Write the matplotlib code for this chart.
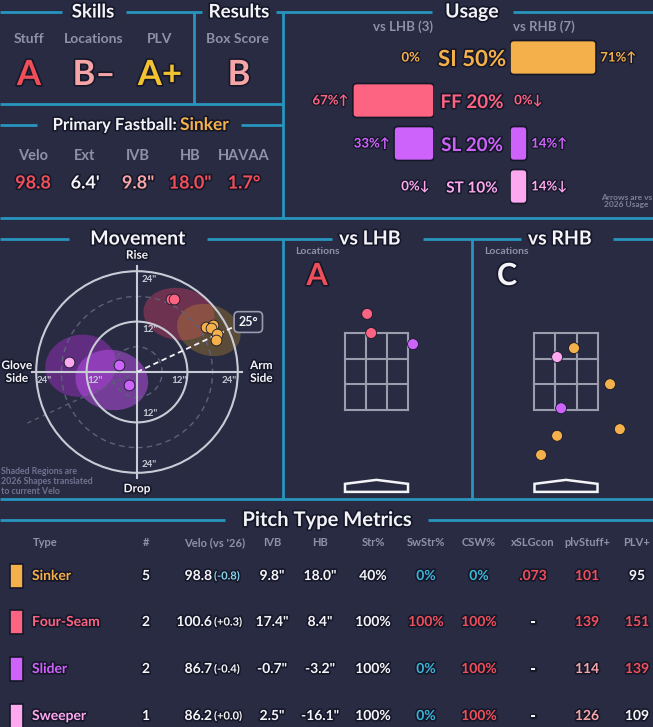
import numpy as np
import matplotlib
matplotlib.use("Agg")
import matplotlib.pyplot as plt
import matplotlib.patheffects as pe
from matplotlib.patches import Ellipse, Circle, Polygon, Rectangle, FancyBboxPatch

plt.rcParams['font.family'] = ['Lato', 'DejaVu Sans']

# ---------------- data ----------------
skill_names = ['Stuff', 'Locations', 'PLV']
skill_grades = ['A', 'B–', 'A+']
result_name = 'Box Score'
result_grade = 'B'

fb_name = 'Sinker'
fb_labels = ['Velo', 'Ext', 'IVB', 'HB', 'HAVAA']
fb_values = ['98.8', "6.4'", '9.8"', '18.0"', '1.7°']

pitch_codes = ['SI', 'FF', 'SL', 'ST']
pitch_names = ['Sinker', 'Four-Seam', 'Slider', 'Sweeper']
usage_all = [50, 20, 20, 10]
usage_lhb = [0, 67, 33, 0]
usage_rhb = [71, 0, 14, 14]
arrow_lhb = ['', '↑', '↑', '↓']
arrow_rhb = ['↑', '↓', '↑', '↓']
n_lhb = 3
n_rhb = 7

# movement (inches): individual pitches
si_hb = [16.5, 18.2, 17.5, 19.0, 18.8]
si_ivb = [10.8, 11.2, 10.4, 9.0, 7.6]
ff_hb = [8.0, 8.8]
ff_ivb = [17.3, 17.5]
sl_hb = [-4.4, -2.0]
sl_ivb = [1.6, -3.0]
st_hb = [-16.1]
st_ivb = [2.5]
arm_angle = 25

# 2026 shapes (ellipses) per pitch, order SI, FF, SL, ST
shape_hb = [17.1, 10.0, -6.0, -13.4]
shape_ivb = [10.0, 13.8, -1.9, 1.5]
shape_w = [15.5, 17.0, 17.4, 17.0]
shape_h = [12.0, 12.4, 14.3, 14.7]
shape_ang = [-20, -8, -10, 12]

# locations (feet)
loc_grade_lhb = 'A'
loc_grade_rhb = 'C'
lhb_x = [-0.21, -0.12, 0.82]
lhb_z = [3.71, 3.28, 3.03]
lhb_type = ['FF', 'FF', 'SL']
rhb_x = [0.18, -0.20, 0.99, -0.11, 1.21, -0.20, -0.56]
rhb_z = [2.94, 2.74, 2.13, 1.59, 1.12, 0.97, 0.54]
rhb_type = ['SI', 'ST', 'SI', 'SL', 'SI', 'SI', 'SI']

# pitch type metrics table
tbl_cols = ['Type', '#', "Velo (vs '26)", 'IVB', 'HB', 'Str%', 'SwStr%', 'CSW%',
            'xSLGcon', 'plvStuff+', 'PLV+']
tbl_count = ['5', '2', '2', '1']
tbl_velo = ['98.8', '100.6', '86.7', '86.2']
tbl_velo_diff = ['(-0.8)', '(+0.3)', '(-0.4)', '(+0.0)']
tbl_ivb = ['9.8"', '17.4"', '-0.7"', '2.5"']
tbl_hb = ['18.0"', '8.4"', '-3.2"', '-16.1"']
tbl_str = ['40%', '100%', '100%', '100%']
tbl_swstr = ['0%', '100%', '0%', '0%']
tbl_csw = ['0%', '100%', '100%', '100%']
tbl_xslg = ['.073', '-', '-', '-']
tbl_stuff = ['101', '139', '114', '126']
tbl_plv = ['95', '151', '139', '109']

# ---------------- style ----------------
BG = '#282b41'
DARK = '#16182a'
LINE = '#2795bd'
GRAY = '#8d91aa'
WHITE = '#f4f4f8'
RED = '#f04f5a'
PINK = '#f6a5a7'
YEL = '#f3c230'
CYAN = '#3cb4d8'
pcol = {'SI': '#f4b04a', 'FF': '#fd6482', 'SL': '#cd63fa', 'ST': '#fda8ef'}
shape_col = ['#c8902a', '#e0406a', '#c050f0', '#9b30c0']
shape_alpha = [0.32, 0.38, 0.5, 0.5]

W, H = 653, 727
fig = plt.figure(figsize=(W / 100, H / 100), dpi=100, facecolor=BG)
ov = fig.add_axes([0, 0, 1, 1])
ov.set_xlim(0, W)
ov.set_ylim(H, 0)
ov.axis('off')


def px_axes(x0, y0, x1, y1):
    a = fig.add_axes([x0 / W, 1 - y1 / H, (x1 - x0) / W, (y1 - y0) / H])
    a.set_facecolor('none')
    a.axis('off')
    return a


def outline(w=2.4):
    return [pe.withStroke(linewidth=w, foreground=DARK)]


def txt(x, y, s, size, color=WHITE, ha='center', va='center', ax=None, stroke=True, **kw):
    a = ax if ax is not None else ov
    t = a.text(x, y, s, fontsize=size, color=color, ha=ha, va=va,
               fontweight='bold', **kw)
    if stroke:
        t.set_path_effects(outline())
    return t


# ---------------- frame lines ----------------
hlines = [(12, 0, 62), (12, 126, 202), (12, 276, 432), (12, 513, 653),
          (104, 0, 283), (125, 0, 37), (125, 241, 283), (218, 0, 653),
          (239, 0, 69), (239, 207, 332), (239, 423, 521), (239, 613, 653),
          (499, 0, 653), (520, 0, 225), (520, 428, 653)]
vlines = [(194, 12, 104), (283, 12, 218), (283, 239, 499), (472, 239, 499)]
for y, xa, xb in hlines:
    ov.plot([xa, xb], [y, y], color=LINE, lw=2, solid_capstyle='butt')
for x, ya, yb in vlines:
    ov.plot([x, x], [ya, yb], color=LINE, lw=2, solid_capstyle='butt')

# ---------------- skills / results ----------------
txt(93, 12, 'Skills', 13.5)
txt(239, 12, 'Results', 13.5)
skill_x = [29, 94, 160]
skill_col = [RED, PINK, YEL]
for x, n, g, c in zip(skill_x, skill_names, skill_grades, skill_col):
    txt(x, 39, n, 10, GRAY, stroke=False)
    txt(x, 75, g, 25, c)
txt(238, 39, result_name, 10, GRAY, stroke=False)
txt(239, 75, result_grade, 25, PINK)

txt(176, 125, 'Primary Fastball:', 12, ha='right')
txt(180, 125, fb_name, 12.5, pcol['SI'], ha='left')
fb_x = [33, 85, 138, 190, 244]
fb_col = [RED, WHITE, PINK, RED, RED]
for x, l, v, c in zip(fb_x, fb_labels, fb_values, fb_col):
    txt(x, 156, l, 10.5, GRAY, stroke=False)
    txt(x, 183, v, 13, c)

# ---------------- usage ----------------
txt(472, 12, 'Usage', 14)
txt(433, 27, f'vs LHB ({n_lhb})', 9.5, GRAY, ha='right', stroke=False)
txt(513, 27, f'vs RHB ({n_rhb})', 9.5, GRAY, ha='left', stroke=False)

rows = list(range(len(pitch_codes)))
colors = [pcol[p] for p in pitch_codes]


def round_bars(a, bars, px_per_x, px_per_row):
    # swap the plain barh rectangles for rounded ones of the same extent
    for b in bars:
        x, y, w, h = b.get_x(), b.get_y(), b.get_width(), b.get_height()
        fc = b.get_facecolor()
        b.remove()
        if w <= 0:
            continue
        a.add_patch(FancyBboxPatch((x, y), w, h,
                                   boxstyle=f'round,pad=0,rounding_size={4 / px_per_x}',
                                   mutation_aspect=px_per_x / px_per_row,
                                   fc=fc, ec=DARK, lw=1.2))


axl = px_axes(285, 36, 434, 208)
bl = axl.barh(rows, usage_lhb, height=0.79, color=colors)
axl.set_xlim(123, 0)
axl.set_ylim(3.5, -0.5)
round_bars(axl, bl, 1.21, 43)
axr = px_axes(510, 36, 653, 208)
br = axr.barh(rows, usage_rhb, height=0.79, color=colors)
axr.set_xlim(0, 118)
axr.set_ylim(3.5, -0.5)
round_bars(axr, br, 1.21, 43)
for i, p in enumerate(pitch_codes):
    a = axl.annotate(f'{usage_lhb[i]}%{arrow_lhb[i] if arrow_lhb[i] else "   "}',
                     (usage_lhb[i], i), xytext=(-3, 0), textcoords='offset points',
                     ha='right', va='center', fontsize=9.5, fontweight='bold',
                     color=pcol[p], annotation_clip=False)
    a.set_path_effects(outline(2))
    a = axr.annotate(f'{usage_rhb[i]}%{arrow_rhb[i]}', (usage_rhb[i], i),
                     xytext=(3, 0), textcoords='offset points', ha='left',
                     va='center', fontsize=9.5, fontweight='bold', color=pcol[p],
                     annotation_clip=False)
    a.set_path_effects(outline(2))
center_size = [16, 13.5, 13.5, 11]
for i, p in enumerate(pitch_codes):
    txt(472, 59.5 + 43 * i, f'{p} {usage_all[i]}%', center_size[i], pcol[p])
txt(652, 201, 'Arrows are vs\n2026 Usage', 6, '#7d8199', ha='right', stroke=False,
    linespacing=1.15, multialignment='center')

# ---------------- movement ----------------
txt(138, 239, 'Movement', 14)
S = 4.2  # px per inch
axm = px_axes(0, 245, 283, 497)
axm.set_xlim(-137 / S, 146 / S)
axm.set_ylim(-125 / S, 127 / S)
ring = '#c9cbd6'
for r in [12, 24]:
    axm.add_patch(Circle((0, 0), r, fill=False, ec=ring, lw=1.5, zorder=2))
for r in [6, 18]:
    axm.add_patch(Circle((0, 0), r, fill=False, ec='#5d6179', lw=1, ls=(0, (4, 3)), zorder=2))
axm.plot([-25, 25], [0, 0], color=ring, lw=1.5, zorder=2)
axm.plot([0, 0], [-25.2, 25.2], color=ring, lw=1.5, zorder=2)
for k in [1, 0, 3, 2]:
    axm.add_patch(Ellipse((shape_hb[k], shape_ivb[k]), shape_w[k], shape_h[k],
                          angle=shape_ang[k], fc=shape_col[k], alpha=shape_alpha[k],
                          lw=0, zorder=1))
ang = np.deg2rad(arm_angle)
axm.plot([0, 25 * np.cos(ang)], [0, 25 * np.sin(ang)], color=WHITE, lw=1.3,
         ls=(0, (3, 2)), zorder=4)
axm.plot([0, -29 * np.cos(ang)], [0, -29 * np.sin(ang)], color='#5a5e74', lw=1,
         ls=(0, (3, 3)), zorder=1)
txt(26.5, 11.9, f'{arm_angle}°', 9, ax=axm, stroke=False, zorder=6,
    bbox=dict(boxstyle='round,pad=0.35', fc=BG, ec='#9a9db0', lw=1.2))
for hb, ivb, p in [(ff_hb, ff_ivb, 'FF'), (si_hb, si_ivb, 'SI'),
                   (sl_hb, sl_ivb, 'SL'), (st_hb, st_ivb, 'ST')]:
    axm.scatter(hb, ivb, s=60, color=pcol[p], edgecolor=DARK, lw=0.6, zorder=5)

tick_c = '#c8cad6'
for v, lab in [(22, '24"'), (10, '12"'), (-10, '12"'), (-22, '24"')]:
    txt(1.2, v, lab, 7, tick_c, ha='left', ax=axm, stroke=False, zorder=6)
for v, lab in [(-22, '24"'), (-10, '12"'), (10, '12"'), (22, '24"')]:
    txt(v, -2.0, lab, 7, tick_c, ax=axm, stroke=False, zorder=6)
txt(0, 27.8, 'Rise', 8.5, ax=axm, zorder=6)
txt(0, -27.8, 'Drop', 8.5, ax=axm, zorder=6)
txt(-28.6, 0, 'Glove\nSide', 8.5, ax=axm, zorder=6, linespacing=1.2)
txt(29.6, 0, 'Arm\nSide', 8.5, ax=axm, zorder=6, linespacing=1.2)
txt(1, 467, 'Shaded Regions are\n2026 Shapes translated\nto current Velo', 6.3,
    '#6f7390', ha='left', va='top', stroke=False, linespacing=1.15)

# ---------------- locations ----------------
P = 44.5  # px per foot
ZB, ZT, ZW = 1.55, 1.55 + 77 / P, 0.708
plate = [(-ZW, -0.29), (-ZW, -0.11), (0, -0.02), (ZW, -0.11), (ZW, -0.29)]


def loc_panel(x0, x1, cx, xs, zs, types):
    a = px_axes(x0, 250, x1, 497)
    a.set_xlim((x0 - cx) / P, (x1 - cx) / P)
    a.set_ylim(ZB - 87 / P, ZB + 160 / P)
    gc = '#9b9dad'
    for k in range(4):
        xv = -ZW + 2 * ZW * k / 3
        zv = ZB + (ZT - ZB) * k / 3
        a.plot([xv, xv], [ZB, ZT], color=gc, lw=1.5, zorder=2)
        a.plot([-ZW, ZW], [zv, zv], color=gc, lw=1.5, zorder=2)
    a.add_patch(Polygon(plate, closed=True, fc=BG, ec=WHITE, lw=1.8, zorder=2))
    a.scatter(xs, zs, s=62, color=[pcol[t] for t in types], edgecolor=DARK,
              lw=0.6, zorder=5)
    return a


txt(370, 239, 'vs LHB', 14)
txt(560, 239, 'vs RHB', 14)
loc_panel(285, 472, 376.5, lhb_x, lhb_z, lhb_type)
loc_panel(472, 653, 566, rhb_x, rhb_z, rhb_type)
txt(317, 252, 'Locations', 7.5, GRAY, stroke=False)
txt(506, 252, 'Locations', 7.5, GRAY, stroke=False)
txt(317, 276, loc_grade_lhb, 22, RED)
txt(507, 276, loc_grade_rhb, 22, WHITE)

# ---------------- table ----------------
txt(327, 520, 'Pitch Type Metrics', 14.5)
col_x = [33, 146, 215, 272, 320, 373, 426, 479, 533, 587, 637]
for k, c in enumerate(tbl_cols):
    txt(col_x[k], 543, c, 8, GRAY, ha='left' if k == 0 else 'center', stroke=False)

row_y = [576, 622, 669, 716]
diff_col = ['#86d3ea', WHITE, WHITE, WHITE]
swstr_col = [CYAN, RED, CYAN, CYAN]
csw_col = [CYAN, RED, RED, RED]
xslg_col = [RED, WHITE, WHITE, WHITE]
stuff_col = [RED, RED, PINK, PINK]
plv_col = [WHITE, RED, RED, WHITE]
for i, p in enumerate(pitch_codes):
    y = row_y[i]
    ov.add_patch(Rectangle((10, y - 12), 13, 24, fc=pcol[p], ec=DARK, lw=1.2))
    txt(32, y, pitch_names[i], 10, pcol[p], ha='left')
    txt(col_x[1], y, tbl_count[i], 10)
    txt(212, y, tbl_velo[i], 10, ha='right')
    txt(214, y, tbl_velo_diff[i], 8, diff_col[i], ha='left')
    txt(col_x[3], y, tbl_ivb[i], 10)
    txt(col_x[4], y, tbl_hb[i], 10)
    txt(col_x[5], y, tbl_str[i], 10)
    txt(col_x[6], y, tbl_swstr[i], 10, swstr_col[i])
    txt(col_x[7], y, tbl_csw[i], 10, csw_col[i])
    txt(col_x[8], y, tbl_xslg[i], 10, xslg_col[i])
    txt(col_x[9], y, tbl_stuff[i], 10, stuff_col[i])
    txt(col_x[10], y, tbl_plv[i], 10, plv_col[i])

fig.savefig('out.png', dpi=100, facecolor=BG)
